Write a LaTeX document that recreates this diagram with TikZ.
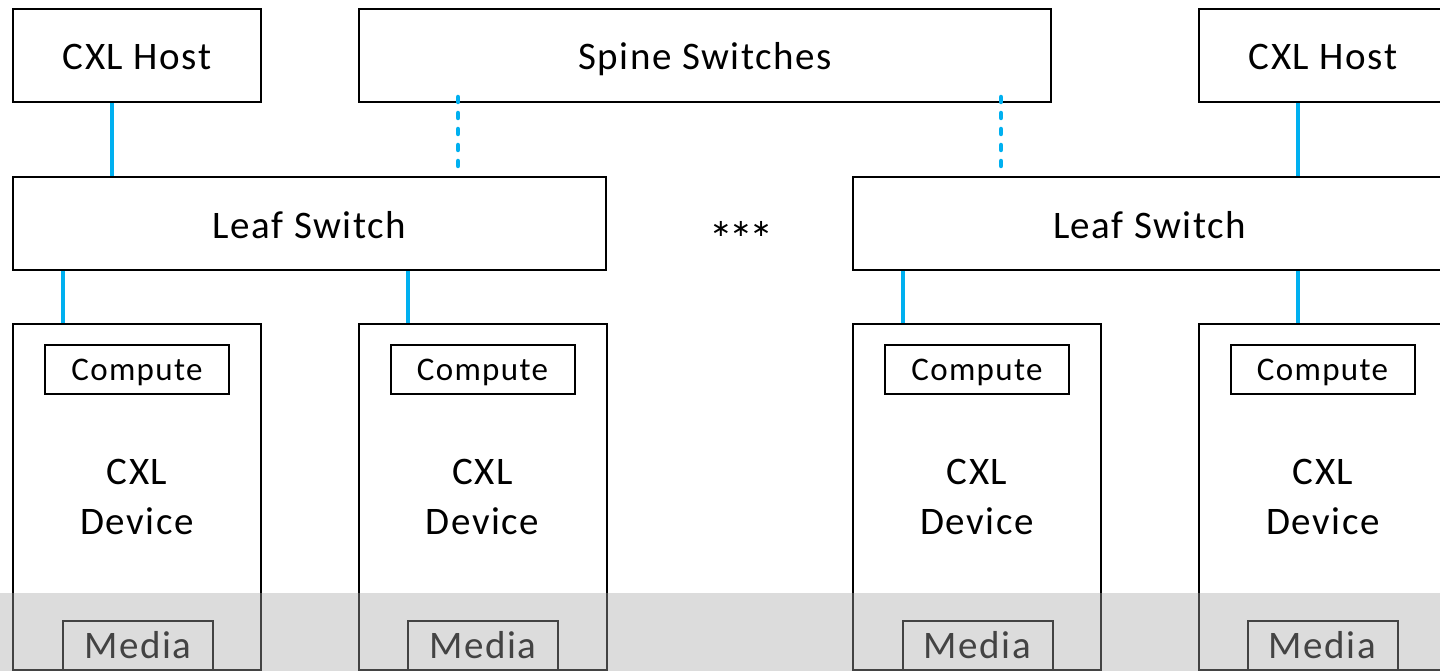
\documentclass[tikz,border=0pt]{standalone}
\usepackage{fontspec}
\setmainfont{Carlito}[LetterSpace=4]
\newfontfamily\symfont{DejaVu Sans}
\definecolor{linkblue}{HTML}{00B0F0}
\definecolor{bandgray}{RGB}{168,168,168}
\begin{document}
\begin{tikzpicture}[x=1pt,y=-1pt,
  box/.style={draw=black,line width=2pt,fill=white,inner sep=0pt,
    font=\fontsize{39}{44}\selectfont,align=center},
  one/.style={text height=25pt,text depth=0pt},
  big/.style={box,text height=29pt,text depth=0pt},
  small/.style={box,one,text height=21pt,font=\fontsize{33}{38}\selectfont,minimum width=184pt,minimum height=49pt},
  media/.style={box,one,minimum width=150pt,minimum height=49pt},
  dev/.style={box,minimum width=248pt,minimum height=346pt,font=\fontsize{39}{50}\selectfont},
  link/.style={draw=linkblue,line width=4.5pt},
  dotlink/.style={link,line cap=round,dash pattern=on 5pt off 11pt}]
\useasboundingbox (0,0) rectangle (1440,671);
\clip (0,0) rectangle (1440,671);
% top row
\node[big,minimum width=248pt,minimum height=93pt] (hostL) at (137,55.5) {CXL Host};
\node[big,minimum width=692pt,minimum height=93pt] (spine) at (705,55.5) {Spine Switches};
\node[big,minimum width=248pt,minimum height=93pt] (hostR) at (1323,55.5) {CXL Host};
% leaf row
\node[big,minimum width=593pt,minimum height=93pt] (leafL) at (309.5,223.5) {Leaf Switch};
\node[big,minimum width=593pt,minimum height=93pt] (leafR) at (1149.5,223.5) {Leaf Switch};
\node[font=\symfont\fontsize{24}{28}\selectfont,inner sep=0pt] (dots) at (741,229) {∗∗∗};
% devices
\node[dev] (d1) at (137,497) {CXL\\Device};
\node[dev] (d2) at (482.5,497) {CXL\\Device};
\node[dev] (d3) at (977,497) {CXL\\Device};
\node[dev] (d4) at (1323,497) {CXL\\Device};
\node[small] (c1) at (137,369.5) {Compute};
\node[small] (c2) at (482.5,369.5) {Compute};
\node[small] (c3) at (977,369.5) {Compute};
\node[small] (c4) at (1322.5,369.5) {Compute};
\node[media] (m1) at (138,645.5) {Media};
\node[media] (m2) at (483,645.5) {Media};
\node[media] (m3) at (977.5,645.5) {Media};
\node[media] (m4) at (1322.5,645.5) {Media};
% link x positions
\coordinate (x1) at (112,0);
\coordinate (x2) at (458,0);
\coordinate (x3) at (1001,0);
\coordinate (x4) at (1298,0);
\coordinate (y1) at (63,0);
\coordinate (y2) at (408,0);
\coordinate (y3) at (903,0);
\coordinate (y4) at (1298,0);
\draw[link] (hostL.south -| x1) -- (leafL.north -| x1);
\draw[dotlink] ([yshift=6pt]spine.south -| x2) -- (leafL.north -| x2);
\draw[dotlink] ([yshift=6pt]spine.south -| x3) -- (leafR.north -| x3);
\draw[link] (hostR.south -| x4) -- (leafR.north -| x4);
\draw[link] (leafL.south -| y1) -- (d1.north -| y1);
\draw[link] (leafL.south -| y2) -- (d2.north -| y2);
\draw[link] (leafR.south -| y3) -- (d3.north -| y3);
\draw[link] (leafR.south -| y4) -- (d4.north -| y4);
% translucent band
\fill[bandgray,fill opacity=0.4] (0,593) rectangle (1440,671);
\end{tikzpicture}
\end{document}
